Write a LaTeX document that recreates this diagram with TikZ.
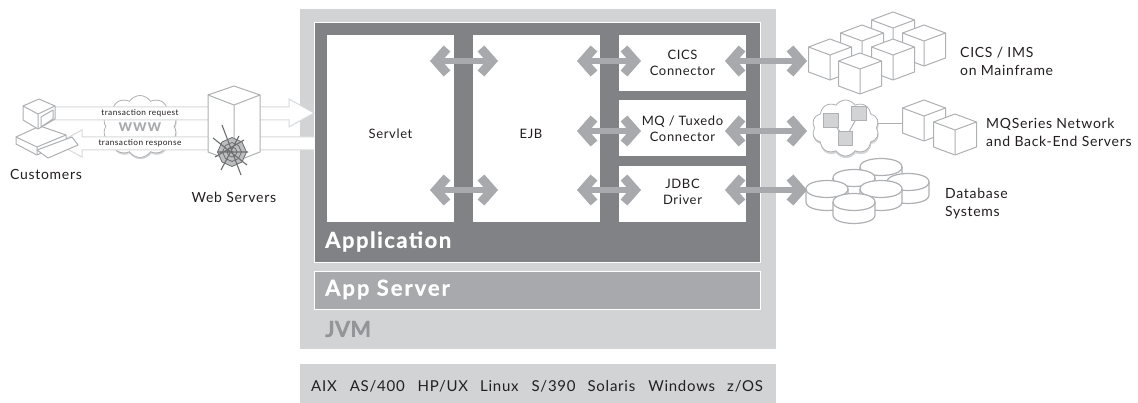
\documentclass[tikz,border=0pt]{standalone}
\usepackage{fontspec}
\setmainfont[LetterSpace=5]{Lato}
\usetikzlibrary{arrows.meta,shapes.symbols}
\definecolor{jvmgray}{HTML}{D1D3D4}
\definecolor{appdark}{HTML}{808285}
\definecolor{srvgray}{HTML}{A7A9AC}
\definecolor{jvmtext}{HTML}{939598}
\definecolor{edgegray}{HTML}{AEB0B3}
\definecolor{palegray}{HTML}{D8DADB}
\definecolor{webgray}{HTML}{BBBDBF}
\definecolor{webline}{HTML}{6D6E71}
\definecolor{inkgray}{HTML}{231F20}
\tikzset{
  x=1pt,y=-1pt,
  panel/.style={fill=#1,draw=none},
  innerbox/.style={fill=white,draw=none,anchor=north west,inner sep=0pt,outer sep=0pt},
  boxlabel/.style={font=\fontsize{13}{16}\selectfont,text=inkgray,align=center,inner sep=0pt},
  sidelabel/.style={font=\fontsize{14}{18}\selectfont,text=inkgray,align=left,anchor=west,inner sep=0pt},
  headline/.style={font=\fontsize{22}{24}\selectfont\bfseries\addfontfeature{LetterSpace=#1,FakeBold=0.8},anchor=west,inner sep=0pt},
  biga/.style={draw=srvgray,line width=5.5pt,
    {Straight Barb[length=11pt,width=25pt,line width=9pt]}-{Straight Barb[length=11pt,width=25pt,line width=9pt]}},
  thinedge/.style={draw=edgegray,line width=1pt,line join=round},
  paleedge/.style={draw=palegray,line width=1pt,line join=miter},
  cubepic/.pic={
    \path[thinedge,fill=white] (0,0) -- (21.5,8) -- (21.5,33) -- (0,41) -- (-21.5,33) -- (-21.5,8) -- cycle;
    \path[thinedge] (-21.5,8) -- (0,16) -- (21.5,8) (0,16) -- (0,41);
  },
  discpic/.pic={
    \path[thinedge,line width=1.2pt,fill=white] (-21,0) -- (-21,13) .. controls (-21,24.3) and (21,24.3) .. (21,13) -- (21,0) .. controls (21,-11.3) and (-21,-11.3) .. cycle;
    \path[thinedge,line width=1.2pt] (-21,0) .. controls (-21,11.3) and (21,11.3) .. (21,0);
  },
  puff/.style={cloud,cloud puffs=#1,cloud puff arc=115,aspect=1.25,inner sep=0pt},
  netsq/.style={draw=edgegray,fill=jvmgray,line width=0.8pt,minimum size=14.5pt,inner sep=0pt,outer sep=0pt},
  webring/.style={draw=webline,line width=0.8pt},
}
\begin{document}
\begin{tikzpicture}
\useasboundingbox (0,0) rectangle (1138,403);
\fill[white] (0,0) rectangle (1138,403);

% stacked platform panels
\path[panel=jvmgray] (300,9) rectangle (776,349);
\path[panel=jvmgray] (300,364) rectangle (776,403);
\path[panel=appdark,draw=white,line width=1.5pt] (314.5,22.5) rectangle (760.5,262.5);
\path[panel=srvgray,draw=white,line width=1.5pt] (314.5,271.5) rectangle (760.5,309.5);

\node[innerbox,minimum width=127pt,minimum height=187pt] (servlet) at (327,35) {};
\node[innerbox,minimum width=127pt,minimum height=187pt] (ejb) at (473,35) {};
\node[innerbox,minimum width=127pt,minimum height=56pt] (cics) at (619,35) {};
\node[innerbox,minimum width=127pt,minimum height=56pt] (mq) at (619,100) {};
\node[innerbox,minimum width=127pt,minimum height=56pt] (jdbc) at (619,166) {};

% www cloud
\node[puff=10,draw=jvmgray,fill=jvmgray,minimum width=74pt,minimum height=62pt] (wwwshadow) at (140.5,128) {};
\node[puff=10,draw=edgegray,fill=white,line width=0.8pt,minimum width=74pt,minimum height=62pt] (wwwcloud) at (140,126.5) {};

% web-traffic arrows
\coordinate (reqstart) at (50,107);
\coordinate (resptail) at (314,137);
\path[paleedge,fill=white] (reqstart) -- (289,107) -- (289,99) -- (314,113) -- (289,127) -- (289,120) -- (50,120) -- cycle;
\fill[white] (resptail) -- (82,137) -- (82,130) -- (57,143.5) -- (82,157) -- (82,150) -- (314,150) -- cycle;
\path[paleedge] (resptail) -- (82,137) -- (82,130) -- (57,143.5) -- (82,157) -- (82,150) -- (314,150);
\node[font=\fontsize{8.3}{10}\selectfont,text=inkgray,inner sep=0pt] (reqlabel) at (140,113) {transaction request};
\node[font=\fontsize{8.3}{10}\selectfont,text=inkgray,inner sep=0pt] (resplabel) at (140,143.5) {transaction response};
\node[font=\fontsize{17}{18}\selectfont\bfseries,text=srvgray,inner sep=0pt] (www) at (140,127) {www};

% customer computer
\path[thinedge,fill=white] (16,137) -- (40,126) -- (66,135) -- (66,142) -- (37,155) -- (16,144) -- cycle;
\path[thinedge] (16,137) -- (37,147) -- (66,135) (37,147) -- (37,155);
\path[thinedge,fill=white] (39,99) -- (55,106) -- (55,119) -- (38,129) -- (23,120) -- (23,106) -- cycle;
\path[thinedge] (23,106) -- (38,114) -- (55,106) (38,114) -- (38,129);
\path[thinedge] (41,117) -- (53,110) -- (53,119) -- (41,127) -- cycle;
\path[thinedge,fill=white] (37,150) -- (72,137) -- (78,145) -- (48,158) -- cycle;

% web server
\path[thinedge,fill=white] (234,86) -- (260,95) -- (260,152) -- (234,162) -- (208,152) -- (208,95) -- cycle;
\path[thinedge] (208,95) -- (234,105) -- (260,95) (234,105) -- (234,162);
\begin{scope}[shift={(232,152)}]
  \path[fill=webgray,webring] (14.5,0) -- (10,-10) -- (0,-14.5) -- (-10,-10) -- (-14.5,0) -- (-10,10) -- (0,14.5) -- (10,10) -- cycle;
  \path[webring] (9.5,0) -- (6.5,-6.5) -- (0,-9.5) -- (-6.5,-6.5) -- (-9.5,0) -- (-6.5,6.5) -- (0,9.5) -- (6.5,6.5) -- cycle;
  \path[webring] (5,0) -- (3.5,-3.5) -- (0,-5) -- (-3.5,-3.5) -- (-5,0) -- (-3.5,3.5) -- (0,5) -- (3.5,3.5) -- cycle;
  \path[webring,line width=1.1pt] (-10,-27) -- (9,23) (-19,-14) -- (15,13) (-17,5) -- (12,-12) (-11,18) -- (7,-16) (-14,0) -- (16,0);
\end{scope}

% mainframe cubes
\pic at (893,12) {cubepic};
\pic at (924,25) {cubepic};
\pic at (862,25) {cubepic};
\pic at (893,39) {cubepic};
\pic at (830,39) {cubepic};
\pic at (860,53) {cubepic};

% MQ network
\node[puff=10,draw=jvmgray,fill=jvmgray,minimum width=67pt,minimum height=56pt] (mqshadow) at (846,130) {};
\node[puff=10,draw=edgegray,fill=white,line width=0.8pt,minimum width=67pt,minimum height=56pt] (mqcloud) at (845.5,128) {};
\pic at (924,100) {cubepic};
\pic at (955,114) {cubepic};
\coordinate (mqcube) at (903,123.5);
\path[thinedge] (mqcloud.east |- mqcube) -- (mqcube);
\node[netsq] (sqa) at (831,120.5) {};
\node[netsq] (sqb) at (859,113.5) {};
\node[netsq] (sqc) at (845.5,138.5) {};
\path[thinedge] (sqa) -- (sqc);
\path[thinedge] (sqb) -- (sqc);

% databases
\pic at (881,167) {discpic};
\pic at (854,178) {discpic};
\pic at (908,182) {discpic};
\pic at (827,189) {discpic};
\pic at (881,189) {discpic};
\pic at (854,202) {discpic};

% double arrows
\coordinate (a1l) at (430,61); \coordinate (a1r) at (498,61);
\coordinate (a2l) at (430,190); \coordinate (a2r) at (498,190);
\coordinate (b1l) at (577,61); \coordinate (b1r) at (641,61);
\coordinate (b2l) at (577,131); \coordinate (b2r) at (641,131);
\coordinate (b3l) at (577,190); \coordinate (b3r) at (641,190);
\coordinate (c1l) at (725,61); \coordinate (c1r) at (807,61);
\coordinate (c2l) at (725,131); \coordinate (c2r) at (807,131);
\coordinate (c3l) at (725,190); \coordinate (c3r) at (807,190);
\draw[biga] (a1l) -- (a1r);
\draw[biga] (a2l) -- (a2r);
\draw[biga] (b1l) -- (b1r);
\draw[biga] (b2l) -- (b2r);
\draw[biga] (b3l) -- (b3r);
\draw[biga] (c1l) -- (c1r);
\draw[biga] (c2l) -- (c2r);
\draw[biga] (c3l) -- (c3r);

% labels
\node[boxlabel] (servlettext) at (390.5,133.5) {Servlet};
\node[boxlabel] (ejbtext) at (531,133.5) {EJB};
\node[boxlabel] (cicstext) at (682.5,63) {CICS\\Connector};
\node[boxlabel] (mqtext) at (682.5,128.5) {MQ / Tuxedo\\Connector};
\node[boxlabel] (jdbctext) at (682.5,192) {JDBC\\Driver};
\node[headline=7,text=white] (apptext) at (325,241.5) {Application};
\node[headline=9,text=white] (srvtext) at (325,289.5) {App Server};
\node[headline=1,text=jvmtext] (jvmlabel) at (325,329) {JVM};
\node[font=\fontsize{15}{18}\selectfont,text=inkgray,inner sep=0pt,anchor=west] (oslist) at (311,386) {AIX\hspace{13pt}AS/400\hspace{13pt}HP/UX\hspace{12pt}Linux\hspace{13pt}S/390\hspace{12pt}Solaris\hspace{13pt}Windows\hspace{12pt}z/OS};
\node[sidelabel] (custtext) at (10,174) {Customers};
\node[sidelabel] (webtext) at (191.5,197) {Web Servers};
\node[sidelabel] (ciclabel) at (960,61) {CICS / IMS\\on Mainframe};
\node[sidelabel] (mqlabel) at (986,132) {MQSeries Network\\and Back-End Servers};
\node[sidelabel] (dblabel) at (945,204) {Database\\Systems};
\end{tikzpicture}
\end{document}
